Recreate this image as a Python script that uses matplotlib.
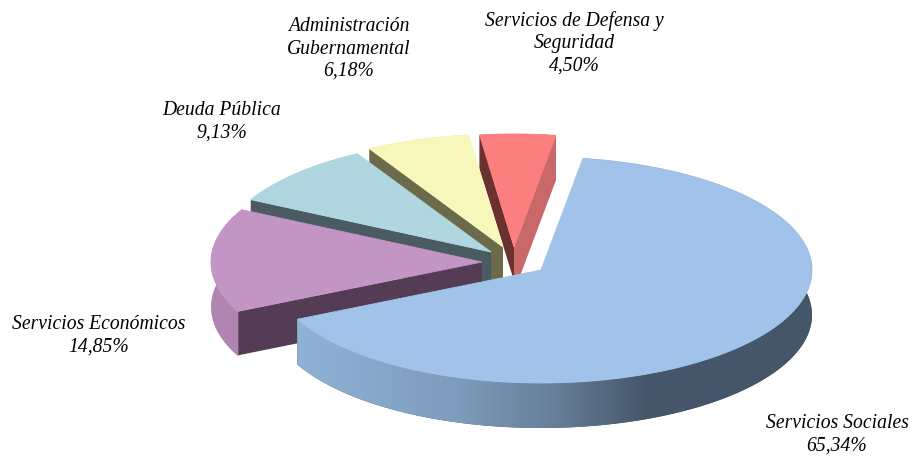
import numpy as np
import matplotlib
matplotlib.use('Agg')
import matplotlib.pyplot as plt
from matplotlib.patches import Polygon
from matplotlib.colors import LinearSegmentedColormap

labels = ['Servicios Sociales', 'Servicios Económicos', 'Deuda Pública',
          'Administración\nGubernamental', 'Servicios de Defensa y\nSeguridad']
shares = [65.34, 14.85, 9.13, 6.18, 4.50]

# look of each slice
top_colors = ['#a1c3e9', '#c295c5', '#b0d7e0', '#f7f6bb', '#fc7f7f']
wall_colors = ['#45566a', '#533c54', '#4a5c62', '#6b6b4b', '#6b3030']
rim_colors = ['#45566a', '#b185b2', '#8aa9b0', '#c4c396', '#c96868']
apex_x = [541, 482, 491, 503, 514]
apex_y = [270, 262, 252, 247, 247]
wall_depth = [45, 44, 45, 45, 34]
label_x = [837, 99, 222, 349, 574]
label_y = [435, 336, 122, 49, 43]

RX, RY = 271, 113
DEPTH = 45
START = 81.1  # angle where the first slice begins, going clockwise

plt.rcParams['font.family'] = ['Liberation Serif', 'DejaVu Serif']

fig = plt.figure(figsize=(9.14, 4.58), dpi=100, facecolor='w')
ax = fig.add_axes([0, 0, 1, 1])
ax.axis('off')


def arc(cx, cy, t0, t1):
    t = np.radians(np.linspace(t0, t1, 240))
    return np.column_stack([cx + RX * np.cos(t), cy - RY * np.sin(t)])


def draw_slice(i, t0, t1, z):
    cx, cy = apex_x[i], apex_y[i]
    edge = arc(cx, cy, t0, t1)
    lower = edge + [0, DEPTH]
    rim = Polygon(np.vstack([edge, lower[::-1]]), closed=True, fc=rim_colors[i], ec='none', zorder=z)
    ax.add_patch(rim)
    if i == 0:
        # main slice has a shaded rim, light on the left and dark on the right
        cmap = LinearSegmentedColormap.from_list('rim', [(0, '#8fb2d6'), (0.3, '#7f9dbd'), (0.5, '#677f99'),
                                                         (0.68, '#45566a'), (1, '#45566a')])
        grad = np.linspace(0, 1, 256).reshape(1, -1)
        im = ax.imshow(grad, cmap=cmap, extent=[297, 812, 440, 260], aspect='auto', zorder=z)
        im.set_clip_path(rim)
    d = wall_depth[i]
    # side wall at the leading edge of the slice
    p = edge[0]
    if i != 0:
        wall = [[cx, cy], p, p + [0, d], [cx, cy + d]]
        ax.add_patch(Polygon(wall, closed=True, fc=wall_colors[i], ec='none', zorder=z + 0.1))
    if i == 4:
        # far wall of the red slice is lit
        q = edge[-1]
        wall = [[cx, cy], q, q + [0, DEPTH], [cx, cy + DEPTH]]
        ax.add_patch(Polygon(wall, closed=True, fc=rim_colors[i], ec='none', zorder=z + 0.1))
    top = np.vstack([[cx, cy], edge])
    ax.add_patch(Polygon(top, closed=True, fc=top_colors[i], ec=top_colors[i], lw=0.6, zorder=z + 0.2))


sweeps = np.array(shares) / sum(shares) * 360
t = START
for i in range(len(shares)):
    # red is at the back, main slice in front
    draw_slice(i, t, t - sweeps[i], 10 - 2 * i)
    t -= sweeps[i]

for i in range(len(shares)):
    txt = labels[i] + '\n' + f'{shares[i]:.2f}'.replace('.', ',') + '%'
    ax.text(label_x[i], label_y[i], txt, ha='center', va='center', style='italic',
            fontsize=14.1, color='k', linespacing=1.24, zorder=30)

ax.set_xlim(0, 914)
ax.set_ylim(458, 0)
fig.savefig('out.png', dpi=100, facecolor='w')
